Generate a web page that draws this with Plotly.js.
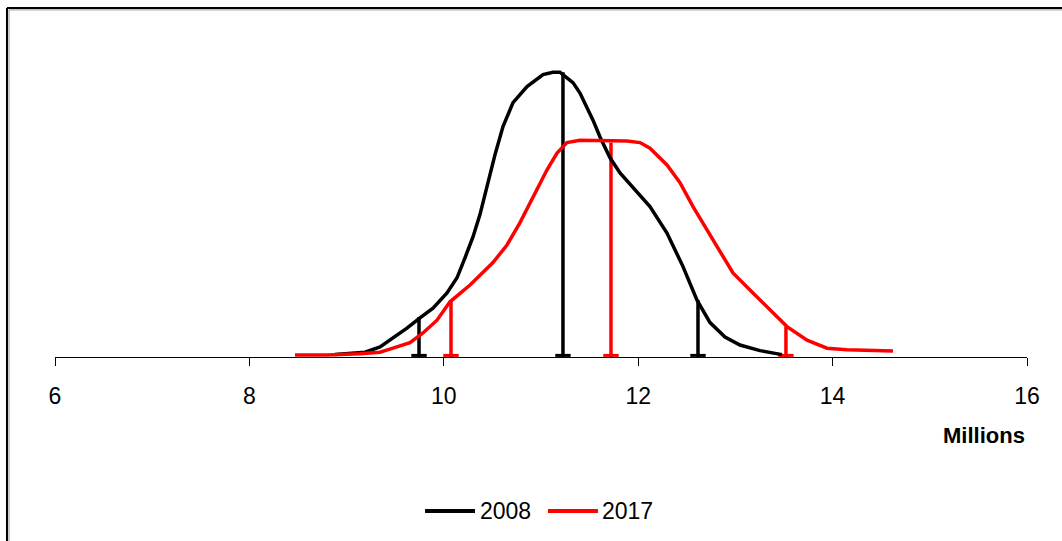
<!DOCTYPE html>
<html>
<head>
<meta charset="utf-8">
<script src="https://cdn.plot.ly/plotly-3.0.1.min.js"></script>
<style>
html,body{margin:0;padding:0;background:#fff;}
#chart{width:1062px;height:541px;}
</style>
</head>
<body>
<div id="chart"></div>
<script>
// Distribution of values (millions) — 2008 vs 2017
const x2008 = [8.881, 9.189, 9.344, 9.447, 9.621, 9.755, 9.889, 10.033, 10.136, 10.218, 10.300, 10.372, 10.444, 10.527, 10.609, 10.712, 10.856, 11.021, 11.123, 11.195, 11.267, 11.329, 11.401, 11.473, 11.535, 11.607, 11.710, 11.813, 11.967, 12.121, 12.296, 12.461, 12.605, 12.739, 12.893, 13.047, 13.253, 13.479];
const y2008 = [0.003, 0.006, 0.0125, 0.021, 0.036, 0.049, 0.061, 0.080, 0.099, 0.124, 0.150, 0.178, 0.215, 0.253, 0.288, 0.318, 0.338, 0.353, 0.356, 0.356, 0.349, 0.343, 0.330, 0.313, 0.296, 0.275, 0.249, 0.230, 0.209, 0.188, 0.155, 0.113, 0.071, 0.043, 0.025, 0.015, 0.008, 0.003];

const x2017 = [8.469, 8.798, 9.138, 9.344, 9.477, 9.652, 9.786, 9.930, 10.064, 10.270, 10.506, 10.650, 10.784, 10.918, 11.062, 11.165, 11.267, 11.401, 11.607, 11.885, 12.019, 12.121, 12.296, 12.430, 12.564, 12.708, 12.842, 12.975, 13.181, 13.428, 13.531, 13.737, 13.942, 14.148, 14.621];
const y2017 = [0.0025, 0.0025, 0.004, 0.006, 0.011, 0.018, 0.030, 0.046, 0.069, 0.090, 0.118, 0.140, 0.168, 0.200, 0.234, 0.255, 0.268, 0.271, 0.271, 0.270, 0.268, 0.261, 0.240, 0.218, 0.188, 0.159, 0.130, 0.105, 0.080, 0.050, 0.038, 0.021, 0.011, 0.009, 0.0075];

// Percentile markers (10th, 50th, 90th) and curve height at each
const pct2008 = [9.745, 11.226, 12.615];
const pctH2008 = [0.050, 0.356, 0.071];
const pct2017 = [10.074, 11.72, 13.52];
const pctH2017 = [0.071, 0.268, 0.038];

const tickVals = [6, 8, 10, 12, 14, 16];
const seriesNames = ['2008', '2017'];
const colors = ['#000000', '#ff0000'];

function dropLines(xs, hs) {
  const X = [], Y = [];
  xs.forEach((v, i) => { X.push(v, v, null); Y.push(0, hs[i], null); });
  return {X, Y};
}

const traces = [];
[[x2008, y2008, pct2008, pctH2008], [x2017, y2017, pct2017, pctH2017]].forEach((s, k) => {
  const d = dropLines(s[2], s[3]);
  traces.push({x: d.X, y: d.Y, mode: 'lines', line: {color: colors[k], width: 3.5}, showlegend: false, hoverinfo: 'skip'});
  traces.push({x: s[2], y: s[2].map(() => 0.002), mode: 'markers', marker: {symbol: 'line-ew', size: 11, line: {color: colors[k], width: 3}}, showlegend: false, hoverinfo: 'skip'});
});
traces.push({x: x2008, y: y2008, name: seriesNames[0], mode: 'lines', line: {color: colors[0], width: 3.5}, showlegend: false});
traces.push({x: x2017, y: y2017, name: seriesNames[1], mode: 'lines', line: {color: colors[1], width: 3.5}, showlegend: false});

const font = "'Liberation Sans Narrow', 'Liberation Sans', Arial, sans-serif";

// Legend (drawn as keys + labels, bottom centre)
const legY = -0.5133;
const legKeys = [[0.3807, 0.4321, 0.4352], [0.5072, 0.5586, 0.5607]];
const legShapes = legKeys.map((k, i) => ({type: 'line', xref: 'paper', yref: 'paper', x0: k[0], x1: k[1], y0: legY, y1: legY, line: {color: colors[i], width: 4}}));
const legText = legKeys.map((k, i) => ({text: seriesNames[i], xref: 'paper', yref: 'paper', x: k[2], y: legY, xanchor: 'left', yanchor: 'middle', showarrow: false, font: {family: font, size: 23, color: '#000'}}));

const layout = {
  width: 1062, height: 541,
  margin: {l: 55, r: 35, t: 57, b: 184},
  paper_bgcolor: '#ffffff', plot_bgcolor: '#ffffff',
  showlegend: false,
  xaxis: {range: [6, 16], tickvals: tickVals, ticktext: tickVals.map(String), ticks: 'outside', ticklen: 8, tickwidth: 1, tickcolor: '#000',
          ticklabelstandoff: 10,
          showline: true, linecolor: '#000', linewidth: 1, showgrid: false, zeroline: false,
          tickfont: {family: font, size: 23, color: '#000'}, fixedrange: true},
  yaxis: {range: [0, 0.375], visible: false, showgrid: false, zeroline: false, fixedrange: true},
  annotations: [{text: '<b>Millions</b>', xref: 'paper', yref: 'paper', x: 1.0, y: -0.26, xanchor: 'right', yanchor: 'middle', showarrow: false,
                 font: {family: font, size: 22, color: '#000'}}].concat(legText),
  shapes: [
    {type: 'line', xref: 'paper', yref: 'paper', x0: -0.0494, x1: -0.0494, y0: -1, y1: 1.163, line: {color: '#000', width: 2}},
    {type: 'line', xref: 'paper', yref: 'paper', x0: -0.0494, x1: 1.2, y0: 1.163, y1: 1.163, line: {color: '#000', width: 2}},
    {type: 'line', xref: 'paper', yref: 'paper', x0: -0.0473, x1: -0.0473, y0: -1, y1: 1.157, line: {color: '#999', width: 1}},
    {type: 'line', xref: 'paper', yref: 'paper', x0: -0.0473, x1: 1.2, y0: 1.157, y1: 1.157, line: {color: '#999', width: 1}}
  ].concat(legShapes)
};

Plotly.newPlot('chart', traces, layout, {displayModeBar: false, staticPlot: true});
</script>
</body>
</html>
